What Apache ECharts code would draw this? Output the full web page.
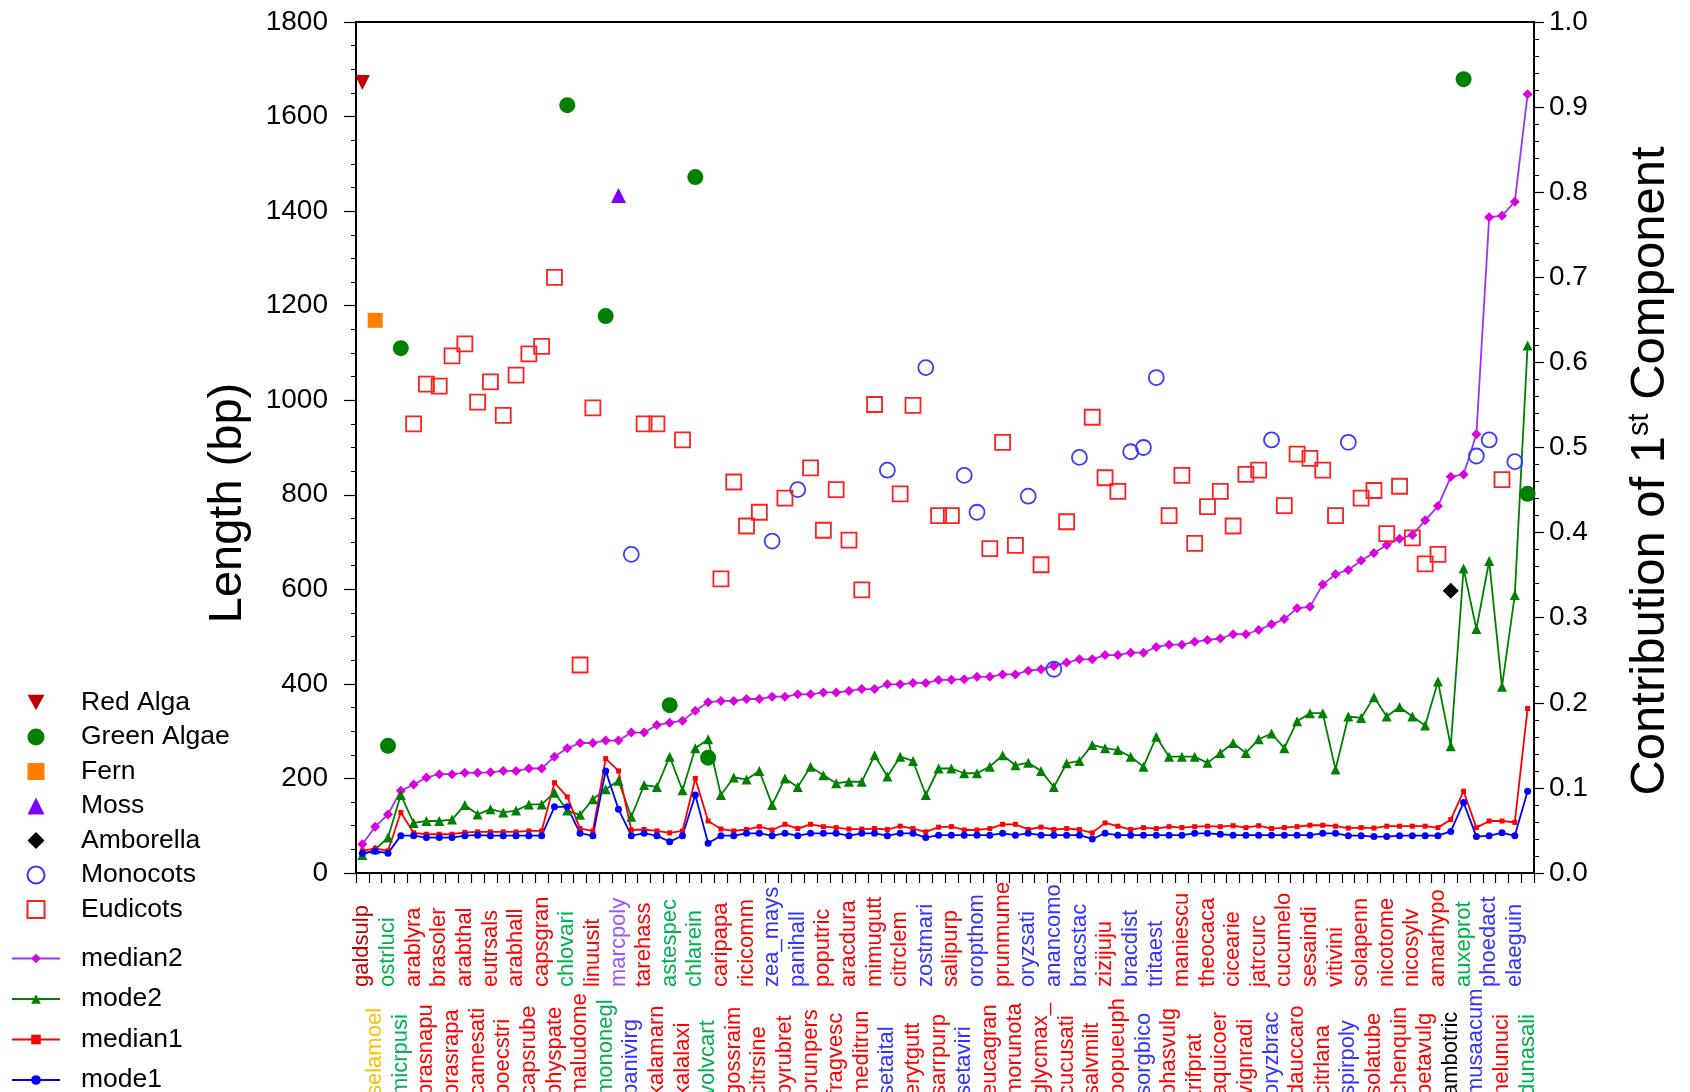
<!DOCTYPE html>
<html><head><meta charset="utf-8">
<script src="https://cdn.jsdelivr.net/npm/echarts@6/dist/echarts.min.js"></script>
<style>html,body{margin:0;padding:0;background:#fff}#c{width:1690px;height:1092px}</style>
</head><body><div id="c"></div>
<script>
const categories = [
 'galdsulp','selamoel','ostrluci','micrpusi','arablyra','brasnapu','brasoler','brasrapa','arabthal','camesati',
 'eutrsals','boecstri','arabhall','capsrube','capsgran','physpate','chlovari','maludome','linuusit','mononegl',
 'marcpoly','panivirg','tarehass','kalamarn','astespec','kalalaxi','chlarein','volvcart','caripapa','gossraim',
 'ricicomm','citrsine','zea_mays','pyrubret','panihall','prunpers','poputric','fragvesc','aracdura','meditrun',
 'mimugutt','setaital','citrclem','erytgutt','zostmari','sarrpurp','salipurp','setaviri','oropthom','eucagran',
 'prunmume','morunota','oryzsati','glycmax_','anancomo','cucusati','bracstac','salvmilt','zizijuju','popueuph',
 'bracdist','sorgbico','tritaest','phasvulg','maniescu','trifprat','theocaca','aquicoer','cicearie','vignradi',
 'jatrcurc','oryzbrac','cucumelo','dauccaro','sesaindi','citrlana','vitivini','spirpoly','solapenn','solatube',
 'nicotome','chenquin','nicosylv','betavulg','amarhypo','ambotric','auxeprot','musaacum','phoedact','nelunuci',
 'elaeguin','dunasali'
];
// R red alga, G green algae, F fern, M moss, A amborella, O monocots, E eudicots
const groups = [
 'R','F','G','G','E','E','E','E','E','E',
 'E','E','E','E','E','E','G','E','E','G',
 'M','O','E','E','G','E','G','G','E','E',
 'E','E','O','E','O','E','E','E','E','E',
 'E','O','E','E','O','E','E','O','O','E',
 'E','E','O','E','O','E','O','E','E','E',
 'O','O','O','E','E','E','E','E','E','E',
 'E','O','E','E','E','E','E','O','E','E',
 'E','E','E','E','E','A','G','O','O','E',
 'O','G'
];
const groupValues = [
 1672,1169,269,1110,950,1034,1030,1094,1119,996,
 1039,968,1053,1098,1114,1260,1624,440,984,1178,
 1433,674,950,950,355,916,1472,244,622,827,
 734,763,702,793,811,857,725,811,704,599,
 991,852,802,989,1069,756,756,841,763,686,
 911,693,797,652,431,743,879,964,836,807,
 891,900,1048,756,841,697,775,807,734,843,
 852,916,777,886,877,852,756,911,793,809,
 718,818,709,654,674,597,1679,882,916,832,
 870,802
];
const median2 = [
 61,98,124,174,187,202,209,209,212,212,
 213,216,216,221,221,246,264,275,275,280,
 280,297,297,313,318,322,343,361,364,364,
 368,368,373,373,378,378,382,382,385,389,
 389,399,399,402,402,408,409,410,415,415,
 420,420,428,431,438,445,452,452,461,461,
 466,466,478,483,483,489,493,496,505,505,
 514,526,537,560,563,610,632,641,661,677,
 694,707,715,746,776,838,843,928,1387,1390,
 1420,1647
];
const mode2 = [
 38,50,75,165,106,110,110,113,144,124,
 135,128,132,145,145,170,132,123,156,177,
 195,119,186,182,246,175,264,283,165,202,
 198,216,144,200,182,225,207,190,193,193,
 249,204,246,237,165,221,221,211,211,225,
 249,228,233,216,182,232,237,271,264,260,
 246,225,288,246,246,246,233,254,275,254,
 283,295,264,321,338,338,219,331,328,372,
 331,351,331,312,405,268,644,516,660,394,
 588,1116
];
const median1 = [
 47,52,47,128,85,82,82,82,86,87,
 87,87,87,89,89,191,161,94,89,242,
 216,91,92,89,85,89,200,110,93,89,
 92,98,91,103,94,103,98,96,93,93,
 94,92,99,94,87,97,98,91,91,94,
 103,103,92,97,92,94,92,85,106,99,
 92,96,94,98,96,98,99,98,100,96,
 100,94,96,98,101,101,99,95,96,95,
 99,99,99,99,96,113,173,96,110,110,
 107,348
];
const mode1 = [
 42,46,42,79,79,75,75,75,79,80,
 79,79,79,79,79,140,140,84,79,216,
 135,79,84,79,66,79,165,63,79,79,
 84,84,79,84,79,84,84,84,79,84,
 84,79,84,84,75,80,80,80,80,80,
 84,80,84,80,80,80,80,72,84,80,
 80,80,80,80,80,84,84,82,80,80,
 80,80,80,80,80,84,84,79,79,77,
 77,79,79,79,79,88,149,77,79,85,
 79,173
];

const FONT = 'Arial, "Liberation Sans", Helvetica, sans-serif';
const DOWN_TRI = 'path://M0,0L10,0L5,9Z';
const groupDefs = [
 {code:'R', name:'Red Alga',    symbol:'triangle', rotate:180, color:'#c00000', label:'#c00000', size:15, icon:DOWN_TRI},
 {code:'G', name:'Green Algae', symbol:'circle',   rotate:0,   color:'#008000', label:'#00b050', size:16},
 {code:'F', name:'Fern',        symbol:'rect',     rotate:0,   color:'#ff8000', label:'#ffc000', size:15},
 {code:'M', name:'Moss',        symbol:'triangle', rotate:0,   color:'#8000ff', label:'#9955ff', size:15},
 {code:'A', name:'Amborella',   symbol:'diamond',  rotate:0,   color:'#000000', label:'#000000', size:16},
 {code:'O', name:'Monocots',    symbol:'circle',   rotate:0,   color:'#3a3aff', label:'#3333ff', size:15, hollow:true},
 {code:'E', name:'Eudicots',    symbol:'rect',     rotate:0,   color:'#ff2020', label:'#ff0000', size:15, hollow:true}
];

const rich = {};
groupDefs.forEach(g => {
  rich[g.code + '0'] = {color:g.label, fontSize:22, fontFamily:FONT, padding:[0,0,0,109]};
  rich[g.code + '1'] = {color:g.label, fontSize:22, fontFamily:FONT};
});

const scatterSeries = groupDefs.map(g => ({
  name: g.name, type:'scatter', xAxisIndex:0, yAxisIndex:0,
  symbol: g.symbol, symbolRotate: g.rotate, symbolSize: g.size,
  itemStyle: g.hollow ? {color:'rgba(255,255,255,0)', borderColor:g.color, borderWidth:1.8, opacity:1}
                      : {color:g.color, opacity:1},
  emphasis:{disabled:true},
  data: categories.map((c,i) => groups[i] === g.code ? [i, groupValues[i]] : null).filter(d => d),
  z: 3
}));

function lineSeries(name, data, lineColor, symColor, symbol, size) {
  return {name, type:'line', data, symbol, symbolSize:size, showSymbol:true,
    lineStyle:{color:lineColor, width:1.8}, itemStyle:{color:symColor, opacity:1},
    emphasis:{disabled:true}, z:2};
}

const chart = echarts.init(document.getElementById('c'), null, {renderer:'canvas'});
chart.setOption({
  animation:false,
  backgroundColor:'#ffffff',
  grid:{left:356, right:156, top:22, bottom:219, containLabel:false, outerBoundsMode:'none',
        show:true, borderColor:'#000', borderWidth:2, backgroundColor:'rgba(0,0,0,0)'},
  legend:[
    {orient:'vertical', left:26.5, top:689, padding:0, itemWidth:17, itemHeight:17, itemGap:7.5, height:400,
     textStyle:{fontSize:26.5, lineHeight:26, fontFamily:FONT, color:'#000', padding:[0,0,0,31.5]},
     data: groupDefs.map(g => g.icon ? {name:g.name, icon:g.icon} : g.name)},
    {orient:'vertical', left:11, top:945, padding:0, itemWidth:48, itemHeight:12, itemGap:13.5, height:300,
     textStyle:{fontSize:26.5, lineHeight:26, fontFamily:FONT, color:'#000', padding:[0,0,0,16]},
     data:['median2','mode2','median1','mode1']}
  ],
  xAxis:{
    type:'category', data:categories, boundaryGap:true,
    axisLine:{show:true, lineStyle:{color:'#000', width:2}},
    axisTick:{show:true, interval:0, length:10, lineStyle:{color:'#000', width:1.2}},
    axisLabel:{interval:0, rotate:90, align:'left', verticalAlign:'middle', margin:223,
      fontSize:22, fontFamily:FONT,
      formatter:(v, i) => '{' + groups[i] + (i % 2 === 0 ? '0' : '1') + '|' + v + '}',
      rich},
    splitLine:{show:false}
  },
  yAxis:[
    {type:'value', min:0, max:1800, interval:200, position:'left',
     axisLine:{show:true, lineStyle:{color:'#000', width:2}},
     axisTick:{show:true, length:12, lineStyle:{color:'#000', width:1.2}},
     minorTick:{show:true, splitNumber:4, length:5, lineStyle:{color:'#000', width:1}},
     axisLabel:{fontSize:28, color:'#000', margin:28, fontFamily:FONT, formatter:v => String(v)},
     splitLine:{show:false}, minorSplitLine:{show:false}},
    {type:'value', min:0, max:1, interval:0.1, position:'right',
     axisLine:{show:true, lineStyle:{color:'#000', width:2}},
     axisTick:{show:true, length:10, lineStyle:{color:'#000', width:1.2}},
     minorTick:{show:true, splitNumber:5, length:5, lineStyle:{color:'#000', width:1}},
     axisLabel:{fontSize:28, color:'#000', margin:15, fontFamily:FONT, formatter:v => v.toFixed(1)},
     splitLine:{show:false}, minorSplitLine:{show:false}}
  ],
  graphic:[
    {type:'text', x:228, y:503, rotation:Math.PI/2, silent:true,
     style:{text:'Length (bp)', fontSize:47, fontFamily:FONT, fill:'#000', align:'center', verticalAlign:'middle'}},
    {type:'text', x:1650, y:471, rotation:Math.PI/2, silent:true,
     style:{text:'{a|Contribution of 1}{s|st}{a| Component}', fill:'#000', align:'center', verticalAlign:'middle',
       rich:{a:{fontSize:49, fontFamily:FONT, fill:'#000'}, s:{fontSize:29, fontFamily:FONT, fill:'#000', verticalAlign:'top'}}}}
  ],
  series:[
    lineSeries('median2', median2, '#9933ff', '#dd00dd', 'diamond', 10),
    lineSeries('mode2', mode2, '#008000', '#008000', 'triangle', 10),
    lineSeries('median1', median1, '#ff0000', '#ff0000', 'rect', 5),
    lineSeries('mode1', mode1, '#0000ff', '#0000ff', 'circle', 7)
  ].concat(scatterSeries)
});
</script></body></html>
